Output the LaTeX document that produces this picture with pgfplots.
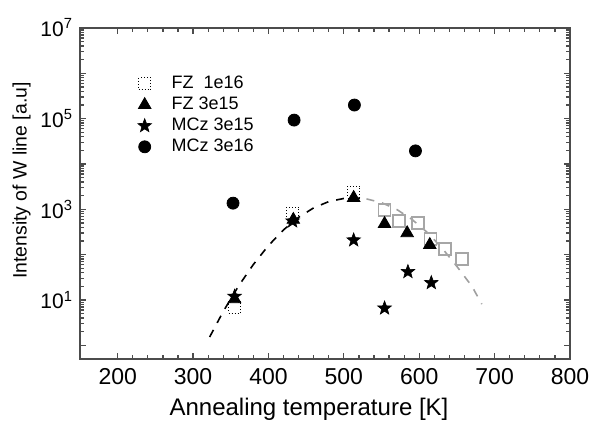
\documentclass[border=0pt]{standalone}
\usepackage{fontspec}
\setmainfont{Liberation Sans}
\usepackage{pgfplots}
\pgfplotsset{compat=1.18}

% filled five-pointed star
\pgfdeclareplotmark{fivestar}{%
  \pgfpathmoveto{\pgfqpointpolar{90}{\pgfplotmarksize}}%
  \pgfpathlineto{\pgfqpointpolar{126}{0.42\pgfplotmarksize}}%
  \pgfpathlineto{\pgfqpointpolar{162}{\pgfplotmarksize}}%
  \pgfpathlineto{\pgfqpointpolar{198}{0.42\pgfplotmarksize}}%
  \pgfpathlineto{\pgfqpointpolar{234}{\pgfplotmarksize}}%
  \pgfpathlineto{\pgfqpointpolar{270}{0.42\pgfplotmarksize}}%
  \pgfpathlineto{\pgfqpointpolar{306}{\pgfplotmarksize}}%
  \pgfpathlineto{\pgfqpointpolar{342}{0.42\pgfplotmarksize}}%
  \pgfpathlineto{\pgfqpointpolar{18}{\pgfplotmarksize}}%
  \pgfpathlineto{\pgfqpointpolar{54}{0.42\pgfplotmarksize}}%
  \pgfpathclose
  \pgfusepathqfillstroke
}

\begin{document}
\begin{tikzpicture}
\begin{axis}[
  scale only axis, width=245pt, height=165.5pt, at={(0,0)}, anchor=south west,
  ymode=log, xmin=150, xmax=800, ymin=0.5, ymax=1e7,
  xtick={200,300,...,800}, minor x tick num=4,
  ytick={1,10,100,1000,1e4,1e5,1e6,1e7},
  yticklabels={,10\textsuperscript{1},,10\textsuperscript{3},,10\textsuperscript{5},,10\textsuperscript{7}},
  /pgf/number format/assume math mode=true,
  tick align=inside, major tick length=3pt, minor tick length=1.8pt,
  axis line style={draw=gray!60!black, line width=1pt},
  every tick/.style={gray!60!black, line width=0.6pt},
  yticklabel style={font=\fontsize{10.5}{12}\selectfont},
  xticklabel style={font=\fontsize{11.5}{13}\selectfont, yshift=-1pt},
  xlabel={Annealing temperature [K]}, ylabel={Intensity of W line [a.u]},
  xlabel style={font=\fontsize{12}{14}\selectfont, xshift=-8pt, yshift=0pt},
  ylabel style={font=\fontsize{9.7}{11}\selectfont, yshift=-2pt, xshift=6.5pt},
  legend style={at={(0.105,0.88)}, anchor=north west, draw=none, fill=none,
    font=\fontsize{9}{10}\selectfont, row sep=-1.3pt,
    /tikz/every odd column/.append style={column sep=8pt}},
  legend cell align=left,
]
% dashed guide curve (black left part, grey right part)
\addplot[black, line width=0.8pt, dash pattern=on 4pt off 4pt, forget plot] coordinates {
  (322,1.53) (340,5.6) (360,20) (380,61) (400,159) (420,353) (440,668)
  (460,1080) (480,1485) (500,1740) (515,1780) (530,1700)};
\addplot[gray!75, line width=0.8pt, dash pattern=on 4pt off 4pt, forget plot] coordinates {
  (530,1700) (550,1406) (570,998) (590,607) (610,317) (630,142) (650,55) (670,20) (683,8.1)};
% FZ 1e16
\addplot[only marks, mark=square, mark size=3pt, mark options={black, densely dotted, line width=0.5pt}] coordinates {
  (355,7) (432,830) (513,2400)};
\addlegendentry{FZ\ \ 1e16}
\addplot[only marks, mark=square, mark size=3pt, mark options={gray!70, solid, line width=0.8pt}, forget plot] coordinates {
  (554,980) (573,550) (598,500) (615,225) (634,134) (657,81)};
% FZ 3e15
\addplot[only marks, mark=triangle*, mark size=3.6pt, black] coordinates {
  (355,10.5) (433,590) (513,1800) (554,480) (584,300) (614,165)};
\addlegendentry{FZ 3e15}
% MCz 3e15
\addplot[only marks, mark=fivestar, mark size=3.6pt, black, line width=0.3pt] coordinates {
  (355,12) (432,550) (513,210) (554,6.6) (585,42) (616,24)};
\addlegendentry{MCz 3e15}
% MCz 3e16
\addplot[only marks, mark=*, mark size=3pt, black] coordinates {
  (353,1370) (434,93000) (514,200000) (595,19500)};
\addlegendentry{MCz 3e16}
\end{axis}
\pgfresetboundingbox
\path[use as bounding box] (-40pt,-33pt) rectangle (256pt,179.5pt);
\end{tikzpicture}
\end{document}
